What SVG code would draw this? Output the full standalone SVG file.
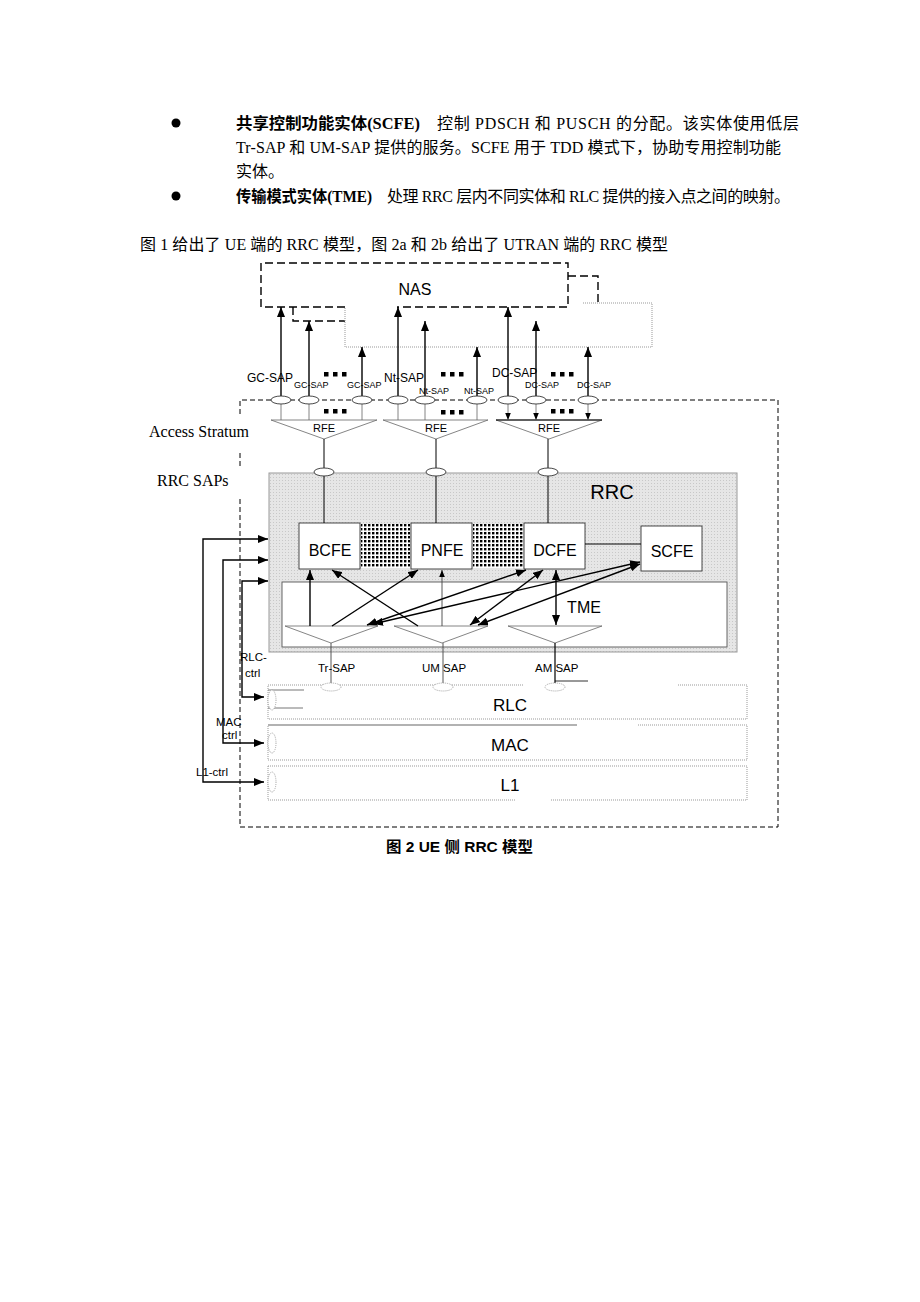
<svg xmlns="http://www.w3.org/2000/svg" width="920" height="1302" viewBox="0 0 920 1302">
<defs>
<style>
.body{font-family:"Liberation Serif","Noto Sans CJK SC",serif;font-size:16px;fill:#000}
.bold{font-family:"Liberation Serif","Noto Sans CJK SC",serif;font-weight:bold;font-size:16px;fill:#000}
.sans{font-family:"Liberation Sans",Arial,sans-serif;fill:#000}
.serif{font-family:"Liberation Serif","Times New Roman",serif;font-size:16px;fill:#000}
.ar{stroke:#000;stroke-width:1.4;fill:none}
.thin{stroke:#666;stroke-width:0.8;fill:none}
.tri{stroke:#666;stroke-width:0.8;fill:#fff}
.dash{stroke:#000;stroke-width:1.4;fill:none;stroke-dasharray:8 4}
.dash2{stroke:#000;stroke-width:1;fill:none;stroke-dasharray:5 3}
.dot{stroke:#999;stroke-width:1;fill:none;stroke-dasharray:1 1}
.ell{stroke:#333;stroke-width:0.9;fill:#fff}
.elld{stroke:#999;stroke-width:0.9;fill:#fff;stroke-dasharray:1 1}
.box{stroke:#333;stroke-width:0.9;fill:#fff}
.sq{fill:#000}
</style>
<marker id="ah" viewBox="0 0 10 8" markerWidth="10" markerHeight="8" refX="10" refY="4" orient="auto-start-reverse" markerUnits="userSpaceOnUse"><path d="M0,0 L10,4 L0,8 z" fill="#000"/></marker>
<marker id="ahs" viewBox="0 0 10 8" markerWidth="7" markerHeight="6" refX="10" refY="4" orient="auto-start-reverse" markerUnits="userSpaceOnUse"><path d="M0,0 L10,4 L0,8 z" fill="#000"/></marker>
<pattern id="stip" width="3" height="3" patternUnits="userSpaceOnUse"><rect width="3" height="3" fill="#e6e6e6"/><rect width="1" height="1" fill="#c8c8c8"/></pattern>
<pattern id="dots" width="4" height="4" patternUnits="userSpaceOnUse"><rect width="4" height="4" fill="#fff"/><rect width="2.4" height="2.4" fill="#000"/></pattern>
</defs>
<rect width="920" height="1302" fill="#fff"/>

<g id="text">
<circle cx="176" cy="123" r="4.5" fill="#000"/>
<text class="bold" x="236" y="129" textLength="184" lengthAdjust="spacingAndGlyphs">共享控制功能实体(SCFE)</text>
<text class="body" x="437" y="129" textLength="362" lengthAdjust="spacing">控制 PDSCH  和 PUSCH 的分配。该实体使用低层</text>
<text class="body" x="236" y="153" textLength="545" lengthAdjust="spacing">Tr-SAP 和 UM-SAP 提供的服务。SCFE 用于 TDD 模式下，协助专用控制功能</text>
<text class="body" x="236" y="177">实体。</text>
<circle cx="176" cy="196" r="4.5" fill="#000"/>
<text class="bold" x="236" y="202" textLength="136" lengthAdjust="spacingAndGlyphs">传输模式实体(TME)</text>
<text class="body" x="387" y="202" textLength="403" lengthAdjust="spacing">处理 RRC 层内不同实体和 RLC 提供的接入点之间的映射。</text>
<text class="body" x="140" y="250" textLength="528" lengthAdjust="spacing">图 1 给出了 UE 端的 RRC 模型，图 2a 和 2b 给出了 UTRAN 端的 RRC 模型</text>
<text class="serif" x="149" y="437">Access Stratum</text>
<text class="serif" x="157" y="486">RRC SAPs</text>
<text class="sans" x="386" y="852" font-size="15" font-weight="bold" textLength="147" lengthAdjust="spacingAndGlyphs" style="font-family:'Liberation Sans','Noto Sans CJK SC',sans-serif">图 2 UE 侧  RRC 模型</text>
</g>

<g id="access-stratum">
<path class="dash2" d="M240,414 V400 H778 V827 H240 V497"/>
<path class="dash2" d="M240,453 V466"/>
</g>

<g id="nas">
<path class="dash" d="M345,307 H261 V263 H568 V307 H397"/>
<path class="dash" d="M293,307 V321 H345"/>
<path class="dash" d="M568,276 H598 V303"/>
<path class="dot" d="M583,303 H652 V347 H345 V307"/>
<text class="sans" x="415" y="295" font-size="16" text-anchor="middle">NAS</text>
</g>

<g id="sap-labels" class="sans">
<text x="247" y="382" font-size="12">GC-SAP</text>
<text x="294" y="388" font-size="9">GC-SAP</text>
<text x="347" y="388" font-size="9">GC-SAP</text>
<text x="384" y="382" font-size="12">Nt-SAP</text>
<text x="419" y="394" font-size="9">Nt-SAP</text>
<text x="464" y="394" font-size="9">Nt-SAP</text>
<text x="492" y="377" font-size="12">DC-SAP</text>
<text x="525" y="388" font-size="9">DC-SAP</text>
<text x="577" y="388" font-size="9">DC-SAP</text>
</g>

<g id="sap-dots">
<rect class="sq" x="324" y="372" width="4.5" height="4.5"/><rect class="sq" x="333" y="372" width="4.5" height="4.5"/><rect class="sq" x="342" y="372" width="4.5" height="4.5"/>
<rect class="sq" x="441" y="372" width="4.5" height="4.5"/><rect class="sq" x="450" y="372" width="4.5" height="4.5"/><rect class="sq" x="459" y="372" width="4.5" height="4.5"/>
<rect class="sq" x="551" y="372" width="4.5" height="4.5"/><rect class="sq" x="560" y="372" width="4.5" height="4.5"/><rect class="sq" x="569" y="372" width="4.5" height="4.5"/>
<rect class="sq" x="324" y="409" width="4.5" height="4.5"/><rect class="sq" x="333" y="409" width="4.5" height="4.5"/><rect class="sq" x="342" y="409" width="4.5" height="4.5"/>
<rect class="sq" x="441" y="410" width="4.5" height="4.5"/><rect class="sq" x="450" y="410" width="4.5" height="4.5"/><rect class="sq" x="459" y="410" width="4.5" height="4.5"/>
<rect class="sq" x="551" y="409" width="4.5" height="4.5"/><rect class="sq" x="560" y="409" width="4.5" height="4.5"/><rect class="sq" x="569" y="409" width="4.5" height="4.5"/>
</g>

<g id="rrc">
<rect x="269" y="473" width="468" height="179" fill="url(#stip)" stroke="#999" stroke-width="1"/>
<text class="sans" x="612" y="499" font-size="20" text-anchor="middle">RRC</text>
<rect x="361" y="524" width="49" height="44" fill="url(#dots)"/>
<rect x="473" y="524" width="50" height="44" fill="url(#dots)"/>
</g>

<g id="tme">
<rect x="282" y="582" width="445" height="65" fill="#fff" stroke="#555" stroke-width="0.9"/>
<text class="sans" x="584" y="613" font-size="16" text-anchor="middle">TME</text>
<path class="tri" d="M285,626 H378 L331,643 Z"/>
<path class="tri" d="M394,626 H488 L442,643 Z"/>
<path class="tri" d="M508,626 H602 L555,643 Z"/>
</g>

<g id="bcfe"><rect class="box" x="299" y="523" width="61" height="46"/><text class="sans" x="330" y="556" font-size="16" text-anchor="middle">BCFE</text></g>
<g id="pnfe"><rect class="box" x="411" y="523" width="61" height="46"/><text class="sans" x="442" y="556" font-size="16" text-anchor="middle">PNFE</text></g>
<g id="dcfe"><rect class="box" x="524" y="523" width="61" height="46"/><text class="sans" x="555" y="556" font-size="16" text-anchor="middle">DCFE</text></g>
<g id="scfe"><rect class="box" x="641" y="526" width="61" height="45"/><text class="sans" x="672" y="557" font-size="16" text-anchor="middle">SCFE</text></g>

<g id="rfe">
<path class="tri" d="M271,420 H377 L324,439 Z"/>
<path class="tri" d="M383,420 H488 L436,439 Z"/>
<path class="tri" d="M496,420 H602 L549,439 Z"/>
<line x1="496" y1="420" x2="602" y2="420" stroke="#000" stroke-width="1.2"/>
<text class="sans" x="324" y="432" font-size="11" text-anchor="middle">RFE</text>
<text class="sans" x="436" y="432" font-size="11" text-anchor="middle">RFE</text>
<text class="sans" x="549" y="432" font-size="11" text-anchor="middle">RFE</text>
</g>

<g id="layers">
<path class="dot" d="M523,685 H268 V719 H747 V685 H678"/>
<line x1="555" y1="681" x2="588" y2="681" stroke="#333" stroke-width="1"/>
<line x1="268" y1="690" x2="304" y2="690" stroke="#777" stroke-width="1"/>
<line x1="268" y1="708" x2="303" y2="708" stroke="#777" stroke-width="1"/>
<text class="sans" x="510" y="711" font-size="17" text-anchor="middle">RLC</text>
<path class="dot" d="M638,725 H747 V760 H268 V725"/>
<line x1="268" y1="725" x2="577" y2="725" stroke="#999" stroke-width="1.5"/>
<text class="sans" x="510" y="751" font-size="17" text-anchor="middle">MAC</text>
<path class="dot" d="M268,766 H747 V800 H550 M515,800 H268 V766"/>
<text class="sans" x="510" y="791" font-size="17" text-anchor="middle">L1</text>
<ellipse class="elld" cx="272" cy="700" rx="4" ry="10"/>
<ellipse class="elld" cx="272" cy="743" rx="4" ry="10"/>
<ellipse class="elld" cx="272" cy="782" rx="4" ry="10"/>
</g>

<g id="connectors">
<line class="ar" x1="281" y1="396" x2="281" y2="307" marker-end="url(#ah)"/>
<line class="ar" x1="309" y1="396" x2="309" y2="321" marker-end="url(#ah)"/>
<line class="ar" x1="362" y1="396" x2="362" y2="347" marker-end="url(#ah)"/>
<line class="ar" x1="398" y1="396" x2="398" y2="307" marker-end="url(#ah)"/>
<line class="ar" x1="425" y1="396" x2="425" y2="321" marker-end="url(#ah)"/>
<line class="ar" x1="477" y1="396" x2="477" y2="347" marker-end="url(#ah)"/>
<line class="ar" x1="508" y1="396" x2="508" y2="307" marker-end="url(#ah)"/>
<line class="ar" x1="536" y1="396" x2="536" y2="321" marker-end="url(#ah)"/>
<line class="ar" x1="588" y1="396" x2="588" y2="347" marker-end="url(#ah)"/>

<line class="thin" x1="281" y1="404" x2="281" y2="420"/>
<line class="thin" x1="309" y1="404" x2="309" y2="420"/>
<line class="thin" x1="362" y1="404" x2="362" y2="420"/>
<line class="thin" x1="398" y1="404" x2="398" y2="420"/>
<line class="thin" x1="425" y1="404" x2="425" y2="420"/>
<line class="thin" x1="477" y1="404" x2="477" y2="420"/>
<line class="thin" x1="508" y1="404" x2="508" y2="420" stroke="#000" marker-end="url(#ahs)"/>
<line class="thin" x1="536" y1="404" x2="536" y2="420" stroke="#000" marker-end="url(#ahs)"/>
<line class="thin" x1="588" y1="404" x2="588" y2="420" stroke="#000" marker-end="url(#ahs)"/>

<ellipse class="ell" cx="281" cy="400" rx="10" ry="4"/>
<ellipse class="ell" cx="309" cy="400" rx="10" ry="4"/>
<ellipse class="ell" cx="362" cy="400" rx="10" ry="4"/>
<ellipse class="ell" cx="398" cy="400" rx="10" ry="4"/>
<ellipse class="ell" cx="425" cy="400" rx="10" ry="4"/>
<ellipse class="ell" cx="477" cy="400" rx="10" ry="4"/>
<ellipse class="ell" cx="508" cy="400" rx="10" ry="4"/>
<ellipse class="ell" cx="536" cy="400" rx="10" ry="4"/>
<ellipse class="ell" cx="588" cy="400" rx="10" ry="4"/>

<line stroke="#000" stroke-width="1" x1="324" y1="439" x2="324" y2="523"/>
<line stroke="#000" stroke-width="1" x1="436" y1="439" x2="436" y2="523"/>
<line stroke="#000" stroke-width="1" x1="548" y1="439" x2="548" y2="523"/>
<ellipse class="ell" cx="324" cy="472" rx="10" ry="4"/>
<ellipse class="ell" cx="436" cy="472" rx="10" ry="4"/>
<ellipse class="ell" cx="548" cy="472" rx="10" ry="4"/>

<line stroke="#000" stroke-width="1" x1="585" y1="544" x2="641" y2="544"/>

<line class="ar" x1="310" y1="626" x2="310" y2="570" marker-end="url(#ah)"/>
<line class="ar" x1="332" y1="626" x2="418" y2="570" marker-end="url(#ah)"/>
<line class="ar" x1="418" y1="626" x2="332" y2="570" marker-end="url(#ah)"/>
<line x1="442" y1="626" x2="442" y2="570" stroke="#444" stroke-width="0.9" marker-end="url(#ahs)"/>
<line class="ar" x1="367" y1="625" x2="526" y2="570" marker-start="url(#ah)" marker-end="url(#ah)"/>
<line class="ar" x1="470" y1="625" x2="543" y2="570" marker-start="url(#ah)" marker-end="url(#ah)"/>
<line class="ar" x1="556" y1="625" x2="556" y2="570" marker-start="url(#ah)" marker-end="url(#ah)"/>
<line class="ar" x1="373" y1="624" x2="640" y2="562" marker-start="url(#ah)" marker-end="url(#ah)"/>
<line class="ar" x1="478" y1="625" x2="640" y2="564" marker-start="url(#ah)" marker-end="url(#ah)"/>

<line x1="331" y1="643" x2="331" y2="683" stroke="#444" stroke-width="0.9"/>
<line x1="443" y1="643" x2="443" y2="683" stroke="#444" stroke-width="0.9"/>
<line x1="555" y1="643" x2="555" y2="683" stroke="#000" stroke-width="1.2"/>
<ellipse class="elld" cx="331" cy="687" rx="10" ry="4"/>
<ellipse class="elld" cx="443" cy="687" rx="10" ry="4"/>
<ellipse class="elld" cx="555" cy="687" rx="10" ry="4"/>

<path class="ar" d="M264,782 H203 V539 H268" marker-start="url(#ah)" marker-end="url(#ah)"/>
<path class="ar" d="M264,743 H223 V560 H268" marker-start="url(#ah)" marker-end="url(#ah)"/>
<path class="ar" d="M264,697 H242 V581 H268" marker-start="url(#ah)" marker-end="url(#ah)"/>
</g>

<g id="small-labels" class="sans">
<text x="318" y="672" font-size="11.5">Tr-SAP</text>
<text x="422" y="672" font-size="11.5">UM SAP</text>
<text x="535" y="672" font-size="11.5">AM SAP</text>
<text x="240" y="661" font-size="11.5">RLC-</text>
<text x="245" y="677" font-size="11.5">ctrl</text>
<text x="216" y="726" font-size="11.5">MAC</text>
<text x="222" y="739" font-size="11.5">ctrl</text>
<text x="196" y="776" font-size="11.5">L1-ctrl</text>
</g>
</svg>
